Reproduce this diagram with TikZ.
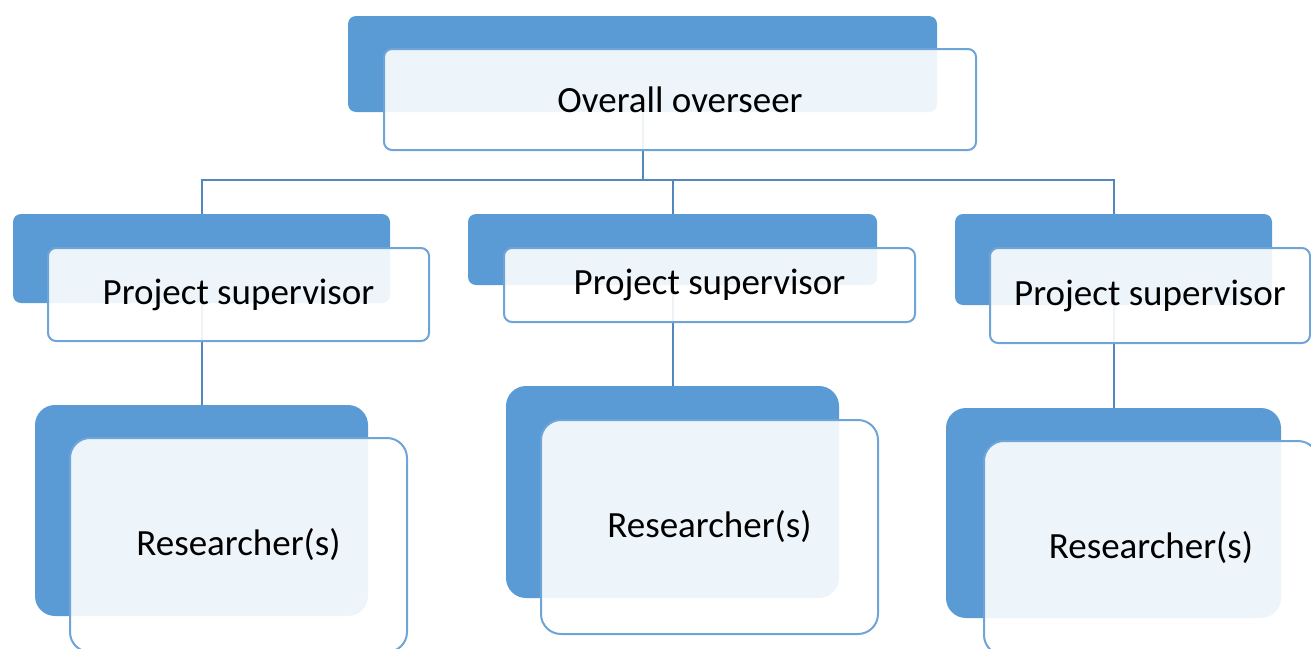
\documentclass[tikz,border=0pt]{standalone}
\usepackage{fontspec}
\setmainfont{Carlito}
\usetikzlibrary{positioning}
\definecolor{boxblue}{HTML}{5B9BD5}
\definecolor{edgeblue}{HTML}{6FA4D9}
\definecolor{linkblue}{HTML}{5587BF}

\begin{document}
\begin{tikzpicture}[x=1pt,y=-1pt,
  back/.style={fill=boxblue, rounded corners=8pt, inner sep=0pt, outer sep=0pt},
  front/.style={fill=white, fill opacity=0.9, text opacity=1, draw=edgeblue, line width=2pt,
    rounded corners=8pt, inner sep=0pt, outer sep=0pt, font=\fontsize{37}{41}\selectfont},
  link/.style={draw=linkblue, line width=2pt}]

\useasboundingbox (0,0) rectangle (1311,648);

% blue backs
{
\node[back, minimum width=589pt, minimum height=96pt] (top) at (642.5,64) {};

\node[back, minimum width=377pt, minimum height=89pt] (supL) at (201.5,258.5) {};
\node[back, minimum width=409pt, minimum height=71pt] (supM) at (672.5,249.5) {};
\node[back, minimum width=317pt, minimum height=91pt] (supR) at (1113.5,259.5) {};

\node[back, rounded corners=20pt, minimum width=333pt, minimum height=211pt] (resL) at (201.5,510.5) {};
\node[back, rounded corners=20pt, minimum width=333pt, minimum height=212pt] (resM) at (672.5,492) {};
\node[back, rounded corners=20pt, minimum width=335pt, minimum height=210pt] (resR) at (1113.5,513) {};
}

% links
{
\coordinate (bus) at (0,180);

\draw[link] (top.south) -- (top.south |- bus) -| (supL.north);
\draw[link] (top.south |- bus) -| (supM.north);
\draw[link] (top.south |- bus) -| (supR.north);

\draw[link] (supL.south) -- (resL.north);
\draw[link] (supM.south) -- (resM.north);
\draw[link] (supR.south) -- (resR.north);
}

% labellings
{
\node[front, minimum width=592pt, minimum height=101pt] (topText) at (680,99.5) {Overall overseer};

\node[front, minimum width=381pt, minimum height=93pt] (supLText) at (238.5,294.5) {Project supervisor};
\node[front, minimum width=411pt, minimum height=74pt] (supMText) at (709.5,285) {Project supervisor};
\node[front, minimum width=320pt, minimum height=95pt] (supRText) at (1150,295.5) {Project supervisor};

\node[front, rounded corners=20pt, minimum width=337pt, minimum height=214pt] (resLText) at (238.5,545) {Researcher(s)};
\node[front, rounded corners=20pt, minimum width=337pt, minimum height=214pt] (resMText) at (709.5,527) {Researcher(s)};
\node[front, rounded corners=20pt, minimum width=334pt, minimum height=214pt] (resRText) at (1151,548) {Researcher(s)};
}

\end{tikzpicture}
\end{document}
